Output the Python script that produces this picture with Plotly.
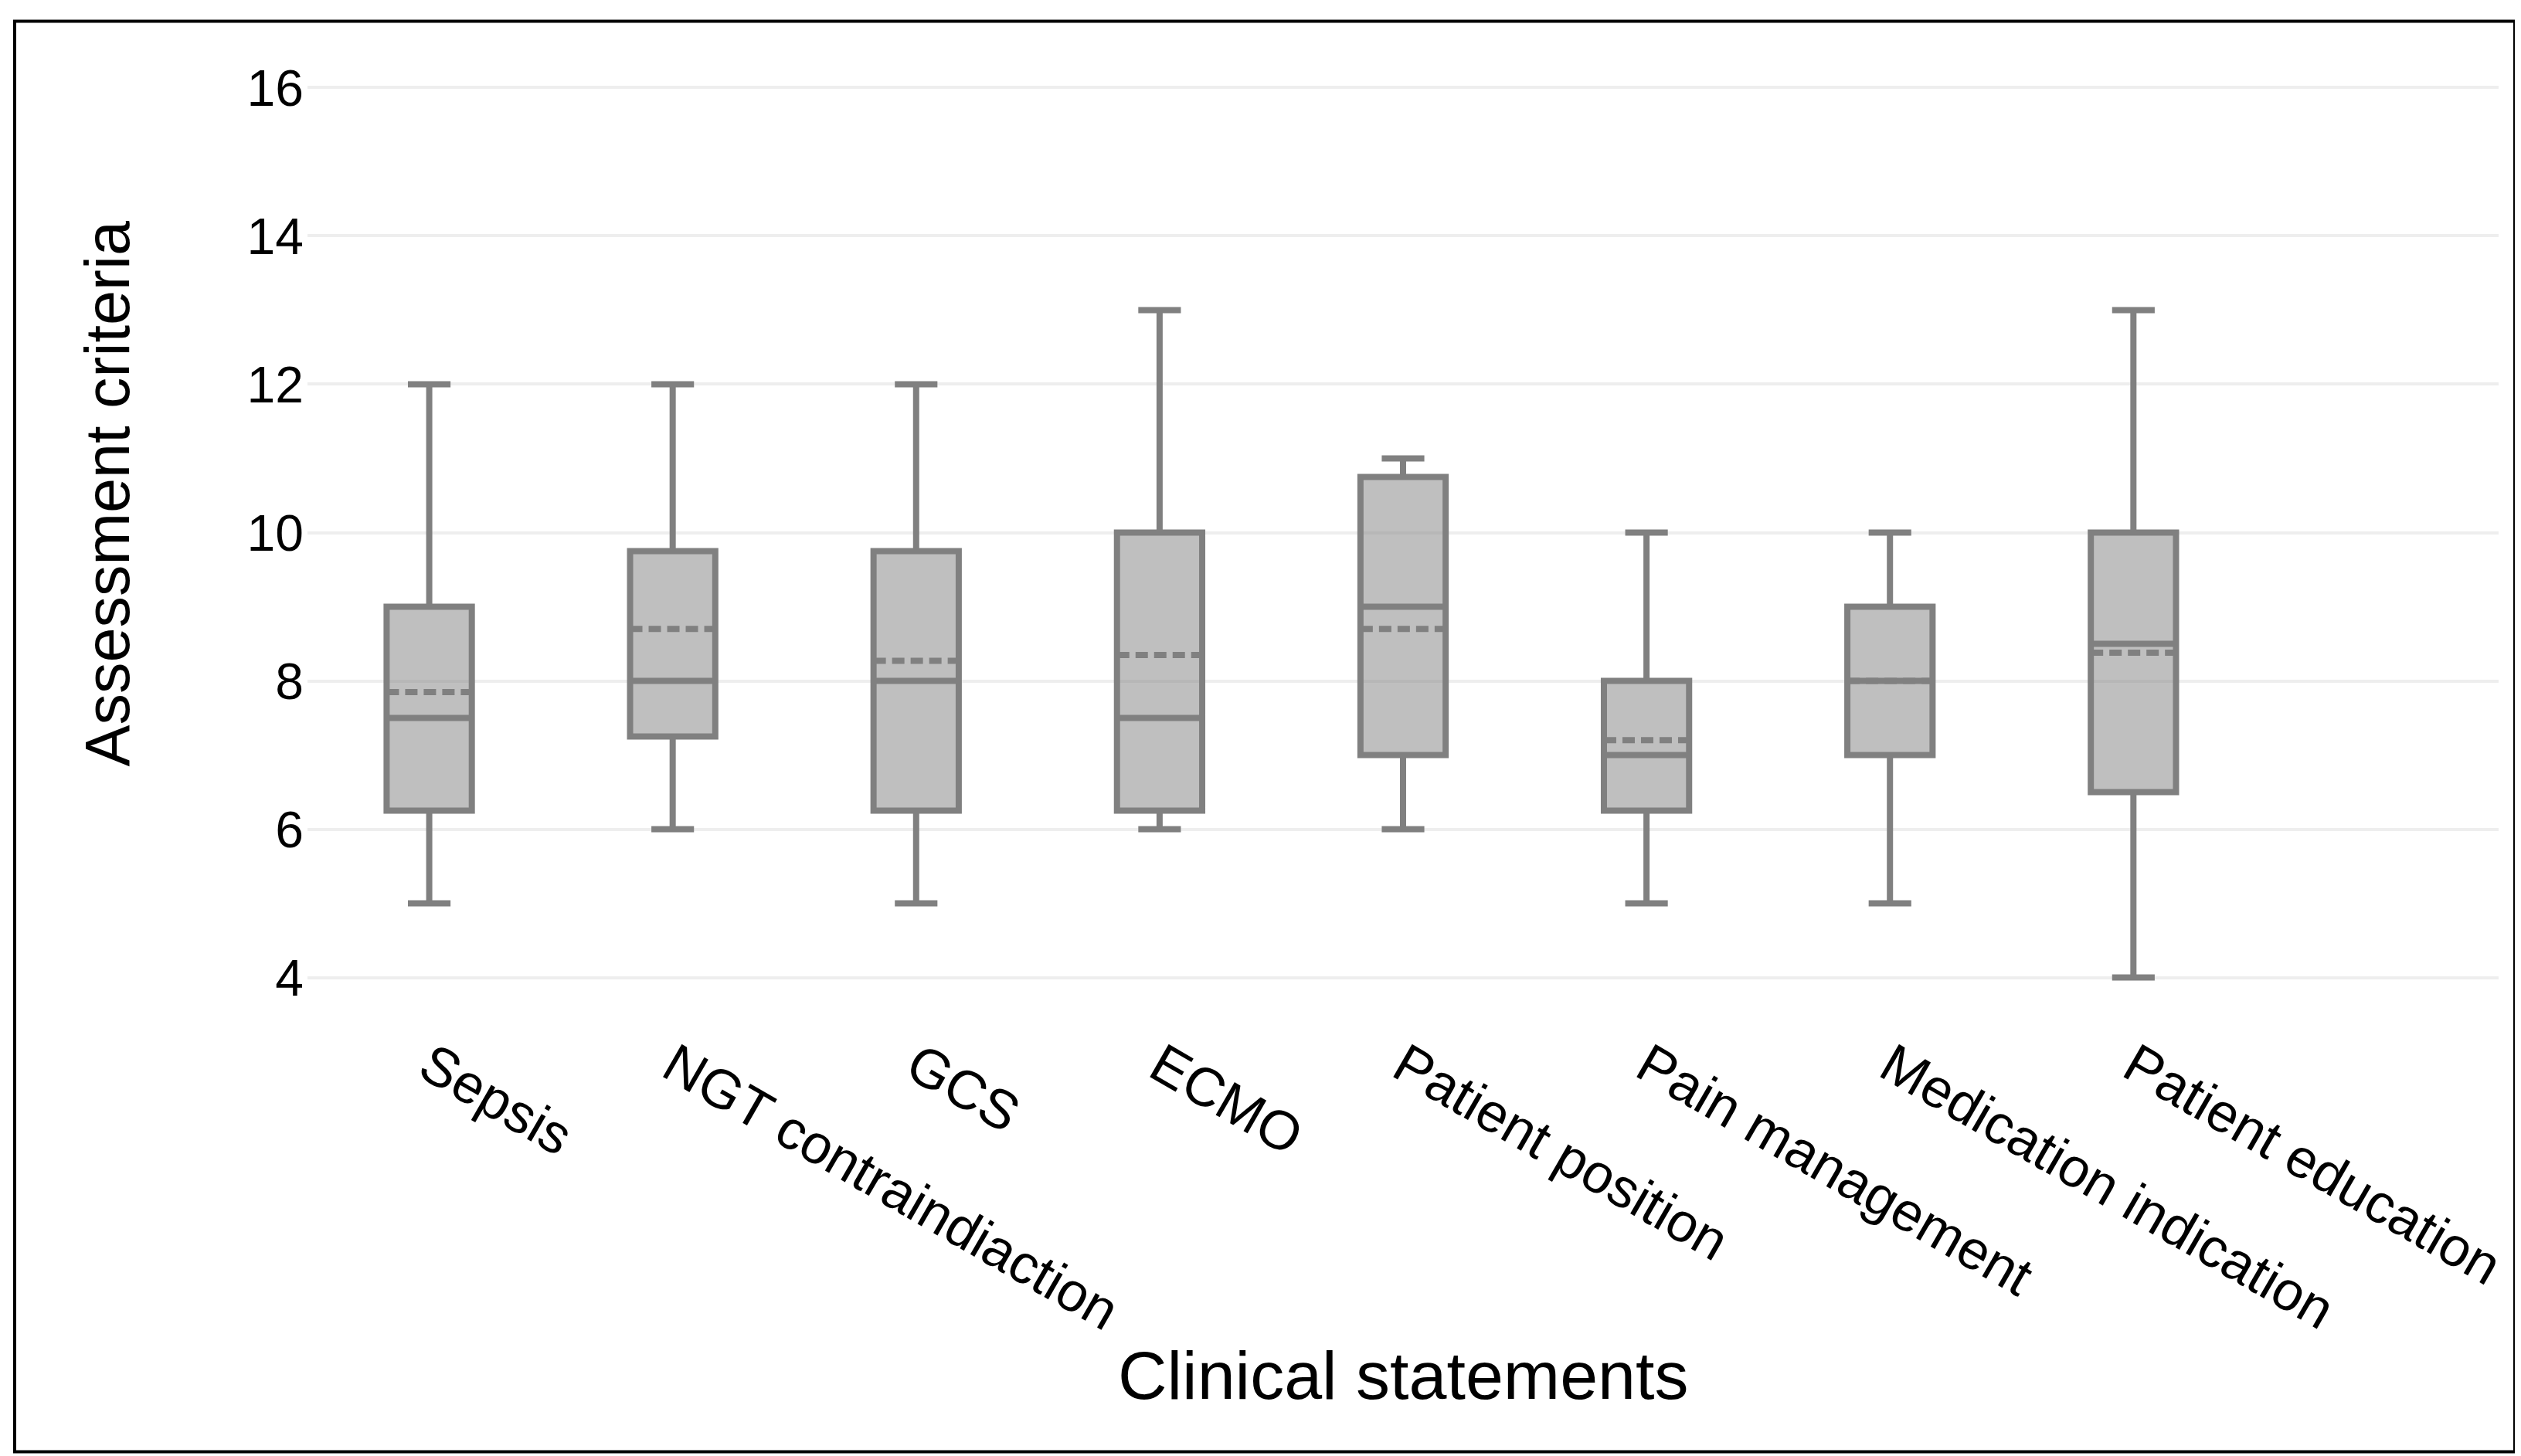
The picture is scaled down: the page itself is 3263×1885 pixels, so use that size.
import plotly.graph_objects as go

# ---- data ----
categories = ["Sepsis", "NGT contraindiaction", "GCS", "ECMO", "Patient position",
              "Pain management", "Medication indication", "Patient education"]
q1 = [6.25, 7.25, 6.25, 6.25, 7.0, 6.25, 7.0, 6.5]
median = [7.5, 8.0, 8.0, 7.5, 9.0, 7.0, 8.0, 8.5]
q3 = [9.0, 9.75, 9.75, 10.0, 10.75, 8.0, 9.0, 10.0]
lowerfence = [5, 6, 5, 6, 6, 5, 5, 4]
upperfence = [12, 12, 12, 13, 11, 10, 10, 13]
mean = [7.85, 8.7, 8.27, 8.35, 8.7, 7.2, 8.0, 8.38]
y_ticks = [4, 6, 8, 10, 12, 14, 16]

# ---- layout geometry (pixels) ----
W, H = 3263, 1885
L, R = 390, 3226          # plot area left/right
T, B = 91.4, 1272.4       # plot area top/bottom
pw, ph = R - L, B - T

def px(x):
    return (x - L) / pw

def py(y):
    return (B - y) / ph

FONT = "Liberation Sans, Arial, sans-serif"

fig = go.Figure()
fig.add_trace(go.Box(
    x=categories,
    q1=q1, median=median, q3=q3,
    lowerfence=lowerfence, upperfence=upperfence,
    mean=mean,
    boxmean=True,
    boxpoints=False,
    line=dict(color="#808080", width=8),
    fillcolor="rgba(128,128,128,0.5)",
    whiskerwidth=0.5,
    showlegend=False,
    hoverinfo="skip",
))

fig.update_layout(
    width=W, height=H,
    margin=dict(l=L, r=W - R, t=T, b=H - B, pad=0),
    paper_bgcolor="white", plot_bgcolor="white",
    boxgap=0.5,
    font=dict(family=FONT, color="black", size=64),
    xaxis=dict(
        type="category",
        categoryorder="array", categoryarray=categories,
        range=[-0.5, 8.5],
        tickangle=30,
        tickfont=dict(size=71, family=FONT, color="black"),
        showgrid=False, zeroline=False, showline=False, ticks="",
        ticklabelstandoff=44,
    ),
    yaxis=dict(
        range=[3.85, 16.15],
        tickvals=y_ticks,
        ticktext=[str(v) for v in y_ticks],
        tickfont=dict(size=66, family=FONT, color="black"),
        showgrid=True, gridcolor="#eeeeee", gridwidth=4,
        zeroline=False, showline=False, ticks="",
        ticklabelstandoff=4,
    ),
    annotations=[
        dict(text="Clinical statements", xref="paper", yref="paper",
             x=0.5, y=py(1773), xanchor="center", yanchor="middle",
             showarrow=False, font=dict(size=88, family=FONT, color="black")),
        dict(text="Assessment criteria", xref="paper", yref="paper",
             x=px(131), y=py(631), xanchor="center", yanchor="middle",
             textangle=-90, showarrow=False,
             font=dict(size=81, family=FONT, color="black")),
    ],
    shapes=[
        dict(type="rect", xref="paper", yref="paper",
             x0=px(11), x1=px(3247), y0=py(1872), y1=py(20),
             line=dict(color="black", width=4), fillcolor="rgba(0,0,0,0)",
             layer="above"),
    ],
)

fig.write_html("out.html")
